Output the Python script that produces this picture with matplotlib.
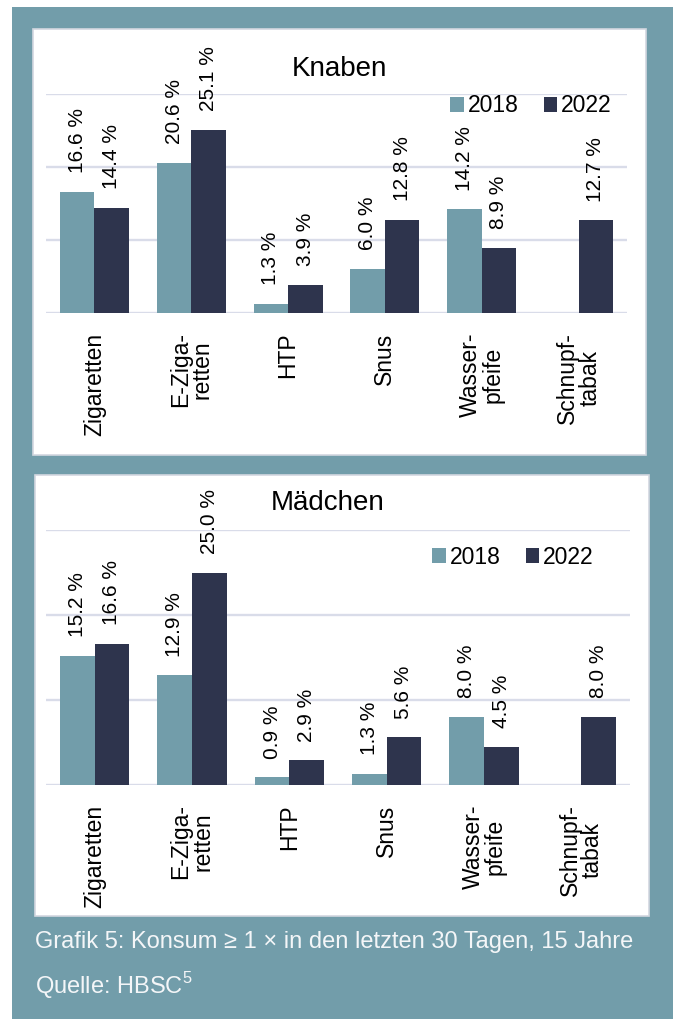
import matplotlib
matplotlib.use("Agg")
import matplotlib.pyplot as plt
import matplotlib.patches as mpatches
import numpy as np

plt.rcParams['font.family'] = ['Liberation Sans', 'DejaVu Sans']
plt.rcParams['mathtext.fontset'] = 'custom'
plt.rcParams['mathtext.rm'] = 'Liberation Sans'

categories = ["Zigaretten", "E-Ziga-\nretten", "HTP", "Snus", "Wasser-\npfeife", "Schnupf-\ntabak"]
years = ["2018", "2022"]
knaben_2018 = [16.6, 20.6, 1.3, 6.0, 14.2, np.nan]
knaben_2022 = [14.4, 25.1, 3.9, 12.8, 8.9, 12.7]
maedchen_2018 = [15.2, 12.9, 0.9, 1.3, 8.0, np.nan]
maedchen_2022 = [16.6, 25.0, 2.9, 5.6, 4.5, 8.0]
panel_titles = ["Knaben", "Mädchen"]
caption = "Grafik 5: Konsum ≥ 1 × in den letzten 30 Tagen, 15 Jahre"
source = r"Quelle: HBSC$^{\mathrm{5}}$"

C18 = "#729DAA"
C22 = "#2E344D"
TEAL = "#729DAA"
GRID = "#D9DCE9"

W, H = 676, 1021
fig = plt.figure(figsize=(W / 100, H / 100), dpi=100, facecolor="white")

def fx(x):
    return x / W

def fy(y):
    return 1 - y / H

# background
fig.patches.append(mpatches.Rectangle((fx(12), fy(1019)), fx(661), 1012 / H,
                                      transform=fig.transFigure, facecolor=TEAL, edgecolor="none", zorder=0))
for (x0, y0, x1, y1) in [(33, 29, 646, 455), (35, 475, 649, 916)]:
    fig.patches.append(mpatches.Rectangle((fx(x0), fy(y1)), fx(x1 - x0), (y1 - y0) / H,
                                          transform=fig.transFigure, facecolor="white",
                                          edgecolor="#D3D7E0", linewidth=1.2, zorder=1))

panels = [
    dict(data=(knaben_2018, knaben_2022), box=(46, 94, 627, 313), title=(339, 69),
         leg=(531, 106)),
    dict(data=(maedchen_2018, maedchen_2022), box=(46, 530, 630, 785), title=(328, 503),
         leg=(513, 557)),
]

x = np.arange(len(categories))
bw = 0.356
for p, title in zip(panels, panel_titles):
    x0, y0, x1, y1 = p["box"]
    ax = fig.add_axes([fx(x0), fy(y1), fx(x1 - x0), (y1 - y0) / H])
    ax.set_zorder(2)
    ax.patch.set_alpha(0)
    s18, s22 = p["data"]
    b1 = ax.bar(x - bw / 2, s18, bw, color=C18, label=years[0], zorder=3)
    b2 = ax.bar(x + bw / 2, s22, bw, color=C22, label=years[1], zorder=3)
    for bars, vals in [(b1, s18), (b2, s22)]:
        for rect, v in zip(bars, vals):
            if np.isnan(v):
                continue
            ax.annotate(f"{v:.1f} %", (rect.get_x() + rect.get_width() / 2, v),
                        xytext=(0, 13.5), textcoords="offset points", rotation=90,
                        ha="center", va="bottom", fontsize=15, color="black", zorder=4)
    ax.set_ylim(0, 30)
    ax.set_xlim(-0.5, len(categories) - 0.5)
    ax.set_yticks([0, 10, 20, 30])
    ax.set_yticklabels([])
    ax.tick_params(axis="y", length=0)
    ax.grid(axis="y", color=GRID, linewidth=1.7, zorder=0)
    ax.set_axisbelow(True)
    for s in ax.spines.values():
        s.set_visible(False)
    ax.set_xticks(x)
    ax.set_xticklabels(categories, rotation=90, fontsize=16.5, ha="center", va="top",
                       linespacing=0.95)
    ax.tick_params(axis="x", length=0, pad=14)
    fig.text(fx(p["title"][0]), fy(p["title"][1]), title, ha="center", va="center",
             fontsize=20, zorder=5)
    ax.legend(loc="center", bbox_to_anchor=(fx(p["leg"][0]), fy(p["leg"][1])),
              bbox_transform=fig.transFigure, ncol=2, frameon=False, fontsize=16.5,
              handlelength=0.6, handleheight=0.6, handletextpad=0.15, columnspacing=1.1,
              borderpad=0, borderaxespad=0)

fig.text(fx(35), fy(942), caption, ha="left", va="center", fontsize=17, color="#F4F6F8")
fig.text(fx(35), fy(986), source, ha="left", va="center", fontsize=17, color="#F4F6F8")

fig.savefig("out.png", dpi=100, facecolor="white")
